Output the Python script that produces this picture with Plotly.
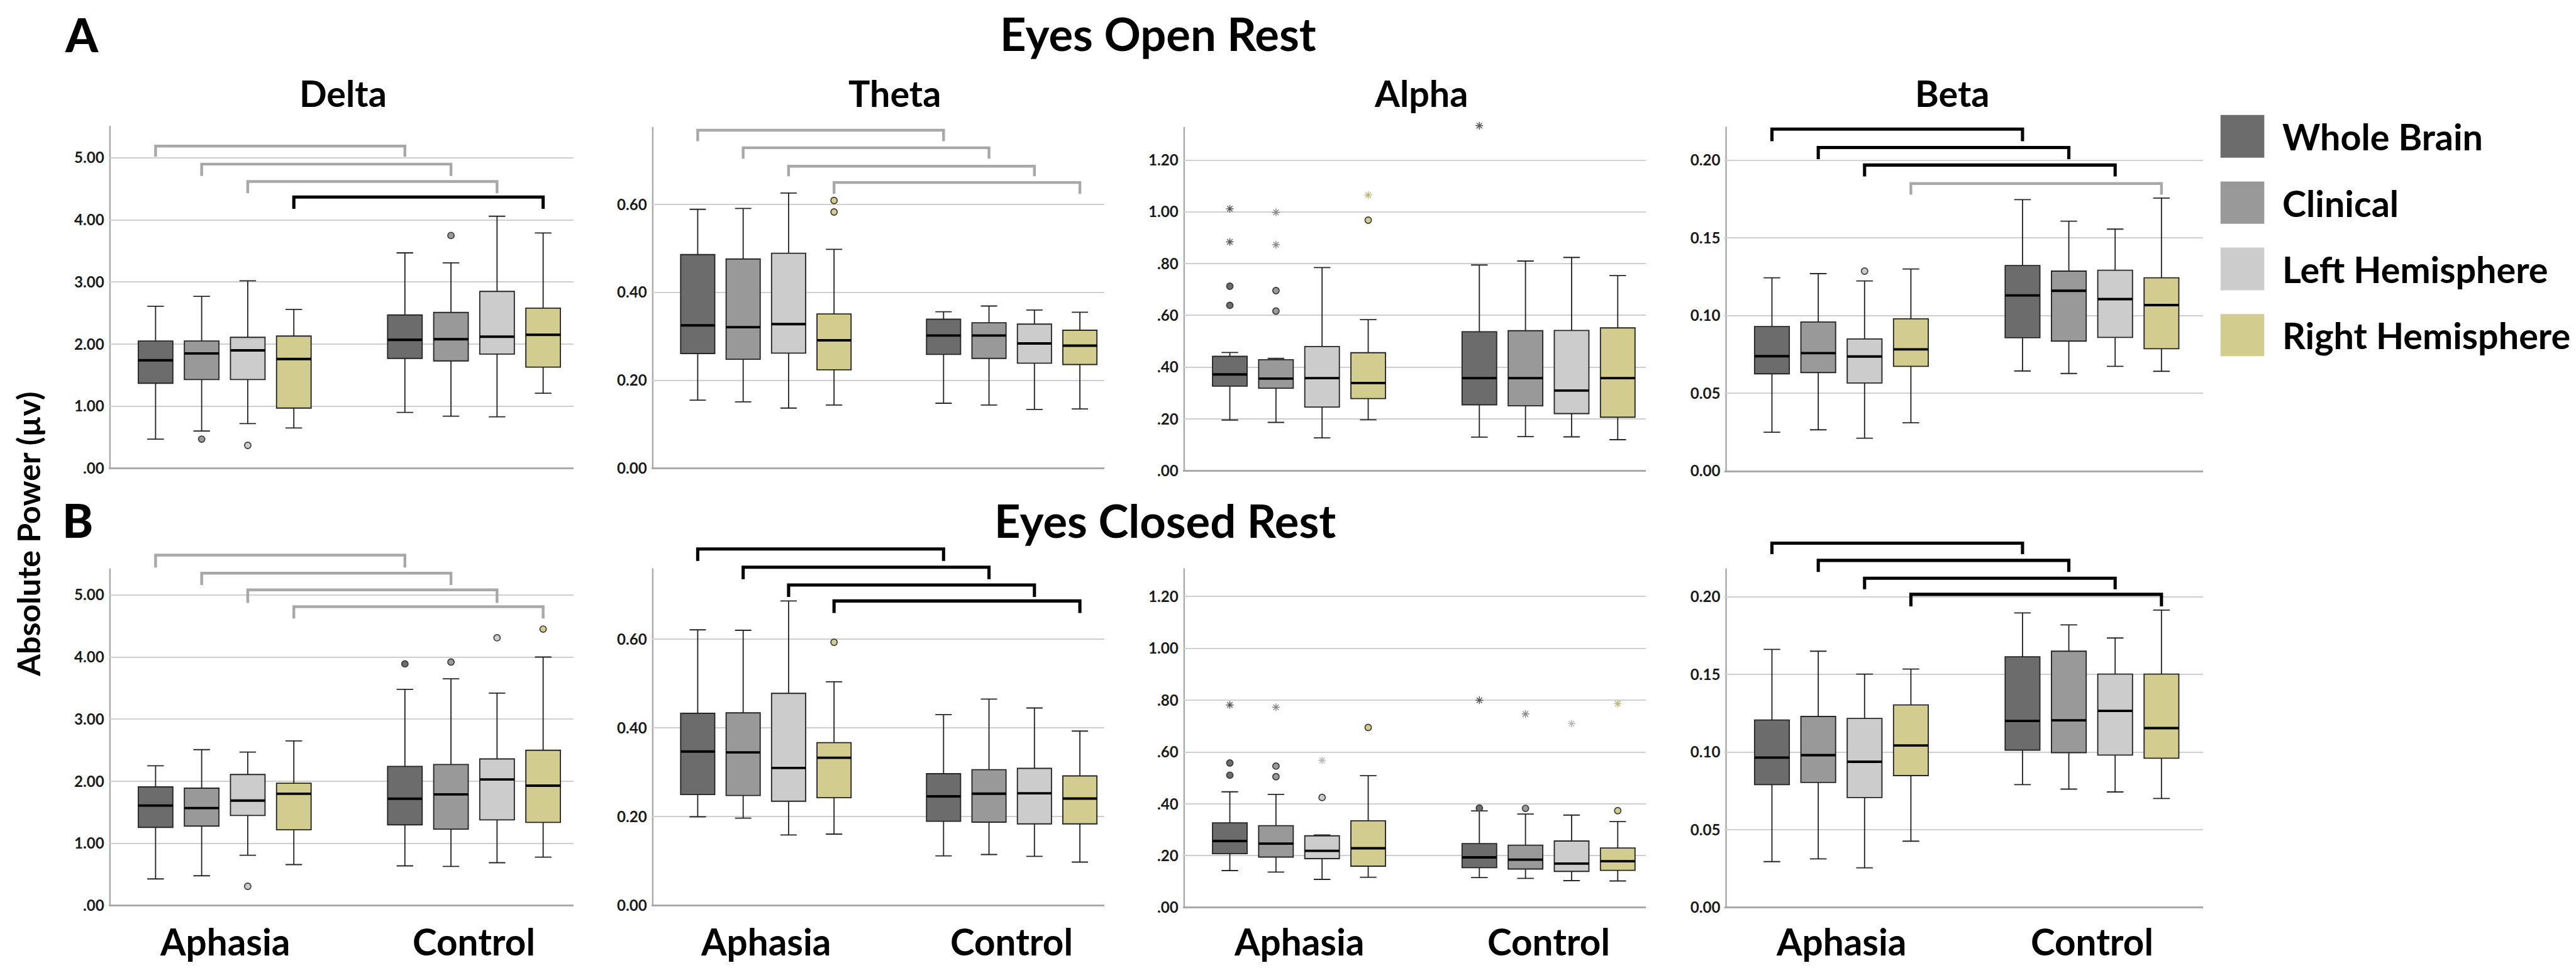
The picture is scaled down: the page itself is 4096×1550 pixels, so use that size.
import plotly.graph_objects as go

# ---------------- reference geometry ----------------
W_REF, H_REF = 4416, 1671
S = 4096 / 4416.0

SERIES = ["Whole Brain", "Clinical", "Left Hemisphere", "Right Hemisphere"]
GROUPS = ["Aphasia", "Control"]
FILL = ["#6c6c6c", "#999999", "#cccccc", "#d2cd8e"]
STAR_COL = ["#5a5a5a", "#8a8a8a", "#b8b8b8", "#bdb77a"]
POS = [1.02, 2.02, 3.02, 4.02, 6.43, 7.43, 8.43, 9.43]
BOX_W = 0.75

# ---------------- data (Aphasia WB, Cl, LH, RH, Control WB, Cl, LH, RH) ----------------
# Eyes open - Delta
OD_LO = [0.47, 0.60, 0.72, 0.65, 0.90, 0.84, 0.83, 1.21]
OD_Q1 = [1.37, 1.43, 1.43, 0.97, 1.77, 1.73, 1.84, 1.63]
OD_MED = [1.74, 1.85, 1.90, 1.76, 2.07, 2.08, 2.12, 2.15]
OD_Q3 = [2.05, 2.05, 2.11, 2.13, 2.47, 2.51, 2.85, 2.58]
OD_HI = [2.61, 2.77, 3.02, 2.56, 3.47, 3.31, 4.06, 3.79]
OD_CIRC = [(1, 0.47), (2, 0.37), (5, 3.75)]
OD_STAR = []
OD_BR_TOP = [5.19, 4.90, 4.62, 4.37]
OD_BR_END = [5.02, 4.71, 4.43, 4.18]
OD_BR_SIG = [False, False, False, True]

# Eyes open - Theta
OT_LO = [0.155, 0.151, 0.137, 0.144, 0.148, 0.144, 0.134, 0.135]
OT_Q1 = [0.261, 0.248, 0.262, 0.224, 0.259, 0.250, 0.239, 0.236]
OT_MED = [0.325, 0.321, 0.328, 0.291, 0.302, 0.302, 0.284, 0.279]
OT_Q3 = [0.486, 0.476, 0.489, 0.351, 0.339, 0.331, 0.328, 0.314]
OT_HI = [0.589, 0.591, 0.626, 0.498, 0.356, 0.369, 0.360, 0.355]
OT_CIRC = [(3, 0.609), (3, 0.583)]
OT_STAR = []
OT_BR_TOP = [0.769, 0.729, 0.687, 0.650]
OT_BR_END = [0.744, 0.704, 0.664, 0.624]
OT_BR_SIG = [False, False, False, False]

# Eyes open - Alpha
OA_LO = [0.196, 0.187, 0.127, 0.197, 0.130, 0.132, 0.131, 0.120]
OA_Q1 = [0.327, 0.319, 0.246, 0.279, 0.255, 0.251, 0.221, 0.207]
OA_MED = [0.372, 0.356, 0.358, 0.339, 0.358, 0.358, 0.310, 0.358]
OA_Q3 = [0.442, 0.429, 0.480, 0.456, 0.537, 0.541, 0.542, 0.552]
OA_HI = [0.457, 0.434, 0.785, 0.584, 0.795, 0.810, 0.824, 0.754]
OA_CIRC = [(0, 0.713), (0, 0.639), (1, 0.696), (1, 0.617), (3, 0.968)]
OA_STAR = [(0, 1.012), (0, 0.884), (1, 0.998), (1, 0.873), (3, 1.065), (4, 1.333)]
OA_BR_TOP = []
OA_BR_END = []
OA_BR_SIG = []

# Eyes open - Beta
OB_LO = [0.0250, 0.0266, 0.0212, 0.0311, 0.0644, 0.0628, 0.0674, 0.0642]
OB_Q1 = [0.0626, 0.0634, 0.0567, 0.0674, 0.0858, 0.0836, 0.0860, 0.0787]
OB_MED = [0.0739, 0.0759, 0.0737, 0.0783, 0.1130, 0.1160, 0.1106, 0.1068]
OB_Q3 = [0.0930, 0.0959, 0.0850, 0.0979, 0.1322, 0.1286, 0.1292, 0.1243]
OB_HI = [0.1243, 0.1270, 0.1223, 0.1300, 0.1746, 0.1607, 0.1556, 0.1756]
OB_CIRC = [(2, 0.1286)]
OB_STAR = []
OB_BR_TOP = [0.2199, 0.2081, 0.1968, 0.1849]
OB_BR_END = [0.2121, 0.2006, 0.1895, 0.1778]
OB_BR_SIG = [True, True, True, False]

# Eyes closed - Delta
CD_LO = [0.43, 0.48, 0.81, 0.66, 0.64, 0.63, 0.69, 0.78]
CD_Q1 = [1.26, 1.28, 1.45, 1.22, 1.30, 1.23, 1.38, 1.34]
CD_MED = [1.61, 1.57, 1.69, 1.80, 1.72, 1.79, 2.03, 1.93]
CD_Q3 = [1.91, 1.89, 2.11, 1.97, 2.24, 2.27, 2.36, 2.50]
CD_HI = [2.25, 2.51, 2.47, 2.65, 3.48, 3.65, 3.42, 4.00]
CD_CIRC = [(2, 0.31), (4, 3.89), (5, 3.92), (6, 4.31), (7, 4.45)]
CD_STAR = []
CD_BR_TOP = [5.64, 5.35, 5.08, 4.81]
CD_BR_END = [5.44, 5.16, 4.87, 4.62]
CD_BR_SIG = [False, False, False, False]

# Eyes closed - Theta
CT_LO = [0.200, 0.197, 0.159, 0.161, 0.112, 0.115, 0.111, 0.098]
CT_Q1 = [0.250, 0.248, 0.235, 0.243, 0.190, 0.188, 0.184, 0.184]
CT_MED = [0.347, 0.345, 0.310, 0.333, 0.246, 0.252, 0.253, 0.241]
CT_Q3 = [0.433, 0.434, 0.478, 0.367, 0.297, 0.306, 0.309, 0.292]
CT_HI = [0.621, 0.620, 0.686, 0.504, 0.430, 0.465, 0.445, 0.393]
CT_CIRC = [(3, 0.593)]
CT_STAR = []
CT_BR_TOP = [0.803, 0.762, 0.722, 0.686]
CT_BR_END = [0.776, 0.735, 0.695, 0.659]
CT_BR_SIG = [True, True, True, True]

# Eyes closed - Alpha
CA_LO = [0.143, 0.137, 0.109, 0.117, 0.116, 0.113, 0.104, 0.103]
CA_Q1 = [0.208, 0.195, 0.189, 0.160, 0.154, 0.149, 0.140, 0.144]
CA_MED = [0.257, 0.247, 0.219, 0.229, 0.194, 0.185, 0.170, 0.179]
CA_Q3 = [0.327, 0.316, 0.277, 0.335, 0.247, 0.241, 0.257, 0.230]
CA_HI = [0.447, 0.437, 0.280, 0.509, 0.373, 0.361, 0.357, 0.332]
CA_CIRC = [(0, 0.558), (0, 0.511), (1, 0.546), (1, 0.505), (2, 0.425), (3, 0.695),
           (4, 0.384), (5, 0.383), (7, 0.374)]
CA_STAR = [(0, 0.782), (1, 0.773), (2, 0.568), (4, 0.800), (5, 0.747), (6, 0.710), (7, 0.787)]
CA_BR_TOP = []
CA_BR_END = []
CA_BR_SIG = []

# Eyes closed - Beta
CB_LO = [0.0295, 0.0313, 0.0255, 0.0427, 0.0791, 0.0762, 0.0744, 0.0702]
CB_Q1 = [0.0791, 0.0805, 0.0708, 0.0849, 0.1013, 0.0997, 0.0981, 0.0961]
CB_MED = [0.0965, 0.0981, 0.0938, 0.1043, 0.1201, 0.1205, 0.1266, 0.1155]
CB_Q3 = [0.1207, 0.1230, 0.1217, 0.1304, 0.1614, 0.1650, 0.1503, 0.1503]
CB_HI = [0.1662, 0.1650, 0.1503, 0.1535, 0.1897, 0.1820, 0.1735, 0.1915]
CB_CIRC = []
CB_STAR = []
CB_BR_TOP = [0.2346, 0.2235, 0.2120, 0.2016]
CB_BR_END = [0.2275, 0.2160, 0.2049, 0.1939]
CB_BR_SIG = [True, True, True, True]

# tick labels
DELTA_TICKS = [0, 1, 2, 3, 4, 5]
DELTA_TEXT = [".00", "1.00", "2.00", "3.00", "4.00", "5.00"]
THETA_TICKS = [0, 0.2, 0.4, 0.6]
THETA_TEXT = ["0.00", "0.20", "0.40", "0.60"]
ALPHA_TICKS = [0, 0.2, 0.4, 0.6, 0.8, 1.0, 1.2]
ALPHA_TEXT = [".00", ".20", ".40", ".60", ".80", "1.00", "1.20"]
BETA_TICKS = [0, 0.05, 0.10, 0.15, 0.20]
BETA_TEXT = ["0.00", "0.05", "0.10", "0.15", "0.20"]

BANDS = ["Delta", "Theta", "Alpha", "Beta"]

# ---------------- layout geometry (reference pixels) ----------------
COL_X = [(177.5, 975, 79.0), (1108, 1885, 77.9), (2019, 2813, 79.07), (2948, 3768, 79.4)]
ROW_Y = [
    [(800.7, 107.3, 208.7), (800.7, 760.0, 211), (805, 447.5, 211), (805.6, 2688.0, 210.3)],
    [(1556.5, 107.4, 973.6), (1556.5, 767.5, 973.6), (1560, 448.0, 973.6), (1559.7, 2684.0, 973.6)],
]
DOM_TOP = [203, 920]

PANELS = [
    (OD_LO, OD_Q1, OD_MED, OD_Q3, OD_HI, OD_CIRC, OD_STAR, OD_BR_TOP, OD_BR_END, OD_BR_SIG, DELTA_TICKS, DELTA_TEXT),
    (OT_LO, OT_Q1, OT_MED, OT_Q3, OT_HI, OT_CIRC, OT_STAR, OT_BR_TOP, OT_BR_END, OT_BR_SIG, THETA_TICKS, THETA_TEXT),
    (OA_LO, OA_Q1, OA_MED, OA_Q3, OA_HI, OA_CIRC, OA_STAR, OA_BR_TOP, OA_BR_END, OA_BR_SIG, ALPHA_TICKS, ALPHA_TEXT),
    (OB_LO, OB_Q1, OB_MED, OB_Q3, OB_HI, OB_CIRC, OB_STAR, OB_BR_TOP, OB_BR_END, OB_BR_SIG, BETA_TICKS, BETA_TEXT),
    (CD_LO, CD_Q1, CD_MED, CD_Q3, CD_HI, CD_CIRC, CD_STAR, CD_BR_TOP, CD_BR_END, CD_BR_SIG, DELTA_TICKS, DELTA_TEXT),
    (CT_LO, CT_Q1, CT_MED, CT_Q3, CT_HI, CT_CIRC, CT_STAR, CT_BR_TOP, CT_BR_END, CT_BR_SIG, THETA_TICKS, THETA_TEXT),
    (CA_LO, CA_Q1, CA_MED, CA_Q3, CA_HI, CA_CIRC, CA_STAR, CA_BR_TOP, CA_BR_END, CA_BR_SIG, ALPHA_TICKS, ALPHA_TEXT),
    (CB_LO, CB_Q1, CB_MED, CB_Q3, CB_HI, CB_CIRC, CB_STAR, CB_BR_TOP, CB_BR_END, CB_BR_SIG, BETA_TICKS, BETA_TEXT),
]

FONT = "Lato, 'Open Sans', sans-serif"


def px(v):
    return v * S


def fx(x):
    return x / W_REF


def fy(y):
    return 1 - y / H_REF


fig = go.Figure()
shapes = []
annotations = []
layout_axes = {}

for p, (lo, q1, med, q3, hi, circ, star, br_top, br_end, br_sig, tv, tt) in enumerate(PANELS):
    row, col = divmod(p, 4)
    n = p + 1
    xa = "x" if n == 1 else f"x{n}"
    ya = "y" if n == 1 else f"y{n}"
    x_left, x_right, step = COL_X[col]
    zero_px, ppu, top_px = ROW_Y[row][col]
    xmax = (x_right - x_left) / step
    ymax = (zero_px - DOM_TOP[row]) / ppu
    ytop = (zero_px - top_px) / ppu

    layout_axes["xaxis" if n == 1 else f"xaxis{n}"] = dict(
        domain=[fx(x_left), fx(x_right)], range=[0, xmax], anchor=ya,
        showgrid=False, zeroline=False, showticklabels=False, ticks="", showline=False,
        fixedrange=True)
    layout_axes["yaxis" if n == 1 else f"yaxis{n}"] = dict(
        domain=[fy(zero_px), fy(DOM_TOP[row])], range=[0, ymax], anchor=xa,
        tickvals=tv, ticktext=tt, ticks="", showline=False,
        showgrid=True, gridcolor="#cfcfcf", gridwidth=px(2.2),
        zeroline=True, zerolinecolor="#a9a9a9", zerolinewidth=px(3),
        tickfont=dict(family=FONT, size=px(26), color="#1a1a1a", weight="bold"),
        ticklabelstandoff=int(round(px(7))), fixedrange=True)

    shapes.append(dict(type="line", xref=xa, yref=ya, x0=0.03, x1=0.03, y0=0, y1=ytop,
                       line=dict(color="#a9a9a9", width=px(2.6)), layer="below"))

    for s in range(4):
        idx = [s, s + 4]
        fig.add_trace(go.Box(
            x=[POS[i] for i in idx],
            q1=[q1[i] for i in idx], median=[med[i] for i in idx], q3=[q3[i] for i in idx],
            lowerfence=[lo[i] for i in idx], upperfence=[hi[i] for i in idx],
            xaxis=xa, yaxis=ya, width=BOX_W, whiskerwidth=0.48,
            fillcolor=FILL[s], line=dict(color="#262626", width=px(2.0)),
            boxpoints=False, showlegend=False, hoverinfo="skip", name=SERIES[s]))

    mx, my = [], []
    for i in range(8):
        mx += [POS[i] - BOX_W / 2, POS[i] + BOX_W / 2, None]
        my += [med[i], med[i], None]
    fig.add_trace(go.Scatter(x=mx, y=my, mode="lines", xaxis=xa, yaxis=ya,
                             line=dict(color="#000000", width=px(4.2)),
                             showlegend=False, hoverinfo="skip"))

    for s in range(4):
        cx = [POS[i] for i, v in circ if i % 4 == s]
        cy = [v for i, v in circ if i % 4 == s]
        if cx:
            fig.add_trace(go.Scatter(x=cx, y=cy, mode="markers", xaxis=xa, yaxis=ya,
                                     marker=dict(symbol="circle", size=px(11), color=FILL[s],
                                                 line=dict(color="#3a3a3a", width=px(1.8))),
                                     showlegend=False, hoverinfo="skip", cliponaxis=False))
        sx = [POS[i] for i, v in star if i % 4 == s]
        sy = [v for i, v in star if i % 4 == s]
        if sx:
            fig.add_trace(go.Scatter(x=sx, y=sy, mode="markers", xaxis=xa, yaxis=ya,
                                     marker=dict(symbol="asterisk-open", size=px(11),
                                                 color=STAR_COL[s],
                                                 line=dict(color=STAR_COL[s], width=px(1.6))),
                                     showlegend=False, hoverinfo="skip", cliponaxis=False))

    for k in range(len(br_top)):
        xa0, xa1 = POS[k], POS[k + 4]
        path = f"M {xa0},{br_end[k]} L {xa0},{br_top[k]} L {xa1},{br_top[k]} L {xa1},{br_end[k]}"
        shapes.append(dict(type="path", xref=xa, yref=ya, path=path,
                           line=dict(color="#000000" if br_sig[k] else "#a8a8a8",
                                     width=px(5.5) if br_sig[k] else px(4.8))))

    if row == 1:
        for g in range(2):
            annotations.append(dict(
                xref=xa, yref="paper", x=sum(POS[g * 4:g * 4 + 4]) / 4, y=fy(1618),
                text=GROUPS[g], showarrow=False, xanchor="center", yanchor="middle",
                font=dict(family=FONT, size=px(63), color="#000", weight="bold")))

TITLE_X = [579, 1525, 2427, 3338]
for b, name in enumerate(BANDS):
    annotations.append(dict(xref="paper", yref="paper", x=fx(TITLE_X[b]), y=fy(152),
                            text=name, showarrow=False, xanchor="center", yanchor="middle",
                            font=dict(family=FONT, size=px(62), color="#000", weight="bold")))

annotations.append(dict(xref="paper", yref="paper", x=fx(1977), y=1, text="Eyes Open Rest",
                        showarrow=False, xanchor="center", yanchor="top",
                        font=dict(family=FONT, size=px(78), color="#000", weight="bold")))
annotations.append(dict(xref="paper", yref="paper", x=fx(1989), y=fy(890), text="Eyes Closed Rest",
                        showarrow=False, xanchor="center", yanchor="middle",
                        font=dict(family=FONT, size=px(78), color="#000", weight="bold")))

annotations.append(dict(xref="paper", yref="paper", x=fx(131), y=1, text="A",
                        showarrow=False, xanchor="center", yanchor="top",
                        font=dict(family=FONT, size=px(80), color="#000", weight=900)))
annotations.append(dict(xref="paper", yref="paper", x=fx(125), y=fy(890), text="B",
                        showarrow=False, xanchor="center", yanchor="middle",
                        font=dict(family=FONT, size=px(80), color="#000", weight=900)))

annotations.append(dict(xref="paper", yref="paper", x=fx(40), y=fy(915), text="Absolute Power (µv)",
                        showarrow=False, xanchor="center", yanchor="middle", textangle=-90,
                        font=dict(family=FONT, size=px(54), color="#000", weight="bold")))

LEG_Y = [(190, 264), (305, 378), (419, 493), (534, 607)]
for s in range(4):
    y0, y1 = LEG_Y[s]
    shapes.append(dict(type="rect", xref="paper", yref="paper", x0=fx(3798), x1=fx(3873),
                       y0=fy(y1), y1=fy(y0), fillcolor=FILL[s], line=dict(width=0)))
    annotations.append(dict(xref="paper", yref="paper", x=fx(3902), y=fy((y0 + y1) / 2),
                            text=SERIES[s], showarrow=False, xanchor="left", yanchor="middle",
                            font=dict(family=FONT, size=px(62), color="#000", weight="bold")))

fig.update_layout(
    width=4096, height=1550, margin=dict(l=0, r=0, t=0, b=0),
    paper_bgcolor="white", plot_bgcolor="white", boxmode="overlay",
    showlegend=False, shapes=shapes, annotations=annotations, **layout_axes)

fig.write_html("out.html")
